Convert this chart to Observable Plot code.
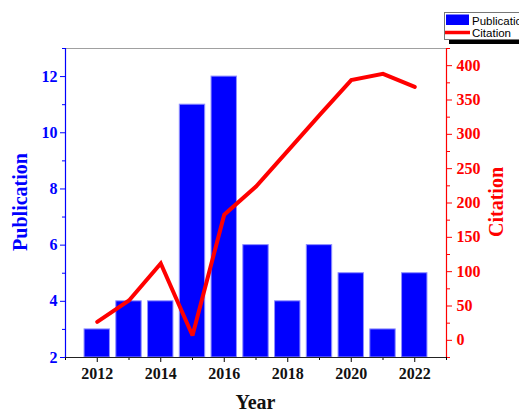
<!DOCTYPE html>
<html>
<head>
<meta charset="utf-8">
<script src="https://cdn.jsdelivr.net/npm/d3@7"></script>
<script src="https://cdn.jsdelivr.net/npm/@observablehq/plot@0.6"></script>
<style>
  html, body { margin: 0; padding: 0; background: #fff; }
  #chart svg { display: block; }
</style>
</head>
<body>
<div id="chart"></div>
<script>
// Publications per year (bars, left axis) and citations per year (line, right axis)
const years = [2012, 2013, 2014, 2015, 2016, 2017, 2018, 2019, 2020, 2021, 2022];
const publications = [3, 4, 4, 11, 12, 6, 4, 6, 5, 3, 5];
const citations = [27, 58, 112, 7, 183, 224, 276, 328, 379, 388, 369];

const yearTicks = [2012, 2014, 2016, 2018, 2020, 2022];
const yearMinor = [2011, 2013, 2015, 2017, 2019, 2021, 2023];
const pubTicks = [2, 4, 6, 8, 10, 12];
const pubMinor = [3, 5, 7, 9, 11, 13];
const citTicks = [0, 50, 100, 150, 200, 250, 300, 350, 400];
const citMinor = [-25, 25, 75, 125, 175, 225, 275, 325, 375, 425];

const xDomain = [2011, 2023];
const pubDomain = [2, 13];
const citDomain = [-25, 425];

// map a citation value onto the publication scale (dual axis)
const toPub = c => pubDomain[0] + (c - citDomain[0]) / (citDomain[1] - citDomain[0]) * (pubDomain[1] - pubDomain[0]);
const fromPub = p => citDomain[0] + (p - pubDomain[0]) / (pubDomain[1] - pubDomain[0]) * (citDomain[1] - citDomain[0]);

const rows = years.map((year, i) => ({year, pub: publications[i], cit: citations[i]}));

const BLUE = "#0000ff", RED = "#ff0000";
const W = 519, H = 413;
const mL = 65, mR = 73, mT = 48, mB = 56;

const chart = Plot.plot({
  width: W, height: H,
  marginLeft: mL, marginRight: mR, marginTop: mT, marginBottom: mB,
  style: {fontFamily: "'Liberation Serif', 'Times New Roman', serif", fontWeight: "bold", fontSize: "16px", background: "#fff"},
  x: {domain: xDomain},
  y: {domain: pubDomain},
  marks: [
    // top frame line
    Plot.ruleY([pubDomain[1]], {stroke: "#a0a0a0", strokeWidth: 1}),
    // bars
    Plot.rectY(rows, {x1: d => d.year - 0.4, x2: d => d.year + 0.4, y1: pubDomain[0], y2: "pub", fill: BLUE, stroke: "#8f8fff", strokeWidth: 1}),
    // citation line
    Plot.line(rows, {x: "year", y: d => toPub(d.cit), stroke: RED, strokeWidth: 4, strokeLinejoin: "miter", strokeMiterlimit: 3}),
    // x axis
    Plot.axisX(yearTicks, {anchor: "bottom", tickSize: 5, tickPadding: 5, tickFormat: d => `${d}`, label: null, stroke: "#000", fill: "#111"}),
    Plot.axisX(yearMinor, {anchor: "bottom", tickSize: 3, tickFormat: () => "", label: null, stroke: "#000"}),
    // left axis (publications)
    Plot.axisY(pubTicks, {anchor: "left", tickSize: 5, tickPadding: 3, label: null, stroke: BLUE, fill: BLUE}),
    Plot.axisY(pubMinor, {anchor: "left", tickSize: 3, tickFormat: () => "", label: null, stroke: BLUE}),
    // right axis (citations)
    Plot.axisY(citTicks.map(toPub), {anchor: "right", tickSize: 5, tickPadding: 5, tickFormat: v => `${Math.round(fromPub(v))}`, label: null, stroke: RED, fill: RED}),
    Plot.axisY(citMinor.map(toPub), {anchor: "right", tickSize: 3, tickFormat: () => "", label: null, stroke: RED}),
    // axis lines
    Plot.ruleX([xDomain[0]], {stroke: BLUE, strokeWidth: 1.2}),
    Plot.ruleX([xDomain[1]], {stroke: RED, strokeWidth: 1.2}),
    Plot.ruleY([pubDomain[0]], {stroke: "#222", strokeWidth: 1.2})
  ]
});

document.getElementById("chart").appendChild(chart);

// axis titles and legend
const svg = d3.select(chart);
const serif = "'Liberation Serif', 'Times New Roman', serif";
const sans = "'Liberation Sans', Arial, sans-serif";

function title(sel, fill) {
  return sel.attr("text-anchor", "middle")
    .style("font-family", serif).style("font-weight", "bold").style("font-size", "20px")
    .attr("fill", fill);
}

title(svg.append("text").attr("x", (mL + W - mR) / 2).attr("y", 409), "#111").text("Year");
title(svg.append("text").attr("transform", "translate(27,202) rotate(-90)"), BLUE).text("Publication");
title(svg.append("text").attr("transform", "translate(503,202) rotate(-90)"), RED).text("Citation");

const lg = svg.append("g")
  .attr("text-anchor", "start")
  .style("font-family", sans).style("font-weight", "normal").style("font-size", "11.5px");
lg.append("rect").attr("x", 449).attr("y", 39).attr("width", 80).attr("height", 5).attr("fill", "#000");
lg.append("rect").attr("x", 444.5).attr("y", 12.5).attr("width", 90).attr("height", 27)
  .attr("fill", "#fff").attr("stroke", "#777").attr("stroke-width", 1);
lg.append("rect").attr("x", 446).attr("y", 14.5).attr("width", 23).attr("height", 10.5).attr("fill", BLUE);
lg.append("line").attr("x1", 445).attr("x2", 470).attr("y1", 32.5).attr("y2", 32.5)
  .attr("stroke", RED).attr("stroke-width", 3.5);
lg.append("text").attr("x", 472).attr("y", 24.5).attr("text-anchor", "start")
  .style("font-weight", "normal").attr("fill", "#000").text("Publication");
lg.append("text").attr("x", 472).attr("y", 37).attr("text-anchor", "start")
  .style("font-weight", "normal").attr("fill", "#000").text("Citation");
</script>
</body>
</html>
